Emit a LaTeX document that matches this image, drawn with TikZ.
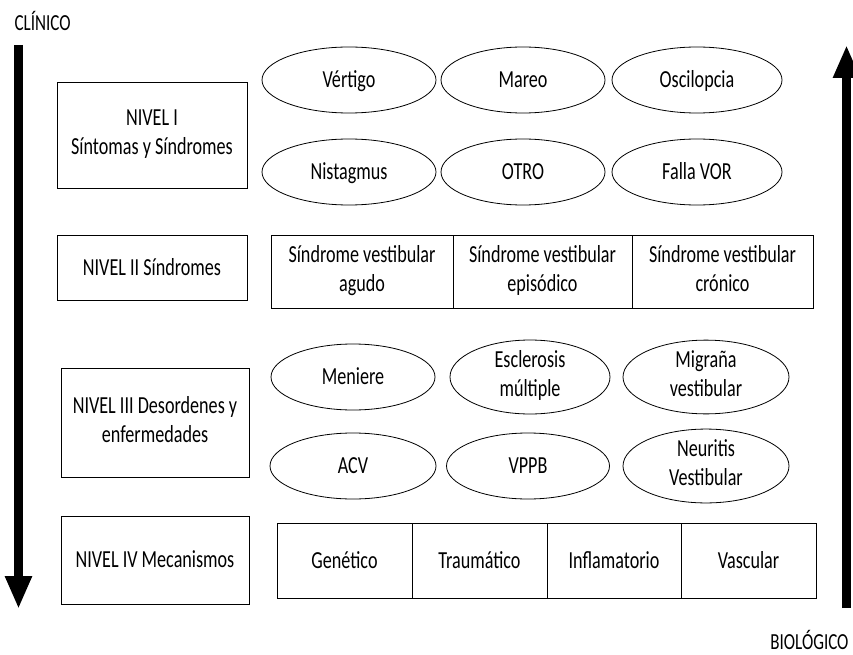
\documentclass[tikz,border=0pt]{standalone}
\usepackage{fontspec}
\setmainfont{Carlito}[FakeStretch=0.74]
\usetikzlibrary{shapes.geometric,arrows.meta,positioning}
\newcommand{\puntal}{\rule[-6.3pt]{0pt}{27.8pt}}

\begin{document}
\begin{tikzpicture}[x=1pt, y=-1pt,
    caja/.style={draw, line width=0.8pt, inner sep=0pt, outer sep=0pt, align=center, font=\fontsize{24.5}{29}\selectfont,
        execute at begin node=\puntal, execute at end node=\puntal},
    elipse/.style={draw, ellipse, line width=0.8pt, inner sep=0pt, minimum height=66pt, align=center, font=\fontsize{24.5}{29}\selectfont,
        execute at begin node=\puntal, execute at end node=\puntal},
    flecha/.style={line width=8.5pt, -{Triangle[length=33pt, width=25pt]}}]
    \useasboundingbox (0,0) rectangle (853,655);

    % Extremos: clínico y biológico
    \node[anchor=west, font=\fontsize{23}{27}\selectfont] (clinico) at (11,21) {CLÍNICO};
    \node[anchor=east, font=\fontsize{23}{27}\selectfont] (biologico) at (852,640) {BIOLÓGICO};
    \coordinate (izqarriba) at (18.5,45);
    \coordinate (izqabajo) at (18.5,609);
    \coordinate (derabajo) at (846.5,608);
    \coordinate (derarriba) at (846.5,45);
    \draw[flecha] (izqarriba) -- (izqabajo);
    \draw[flecha] (derabajo) -- (derarriba);

    % Niveles
    \node[caja, minimum width=190pt, minimum height=106pt] (nivel1) at (152,135) {NIVEL I\\Síntomas y Síndromes};
    \node[caja, minimum width=190pt, minimum height=65pt] (nivel2) at (152,267.5) {NIVEL II Síndromes};
    \node[caja, minimum width=188pt, minimum height=109pt] (nivel3) at (155,422.5) {NIVEL III Desordenes y\\enfermedades};
    \node[caja, minimum width=188pt, minimum height=88pt] (nivel4) at (155,560) {NIVEL IV Mecanismos};

    % Nivel I: síntomas
    \node[elipse, minimum width=174pt] (vertigo) at (349,80) {Vértigo};
    \node[elipse, minimum width=164pt] (mareo) at (523,80) {Mareo};
    \node[elipse, minimum width=170pt] (oscilopcia) at (697,80) {Oscilopcia};
    \node[elipse, minimum width=174pt] (nistagmus) at (349,172) {Nistagmus};
    \node[elipse, minimum width=164pt] (otro) at (523,172) {OTRO};
    \node[elipse, minimum width=170pt] (fallavor) at (697,172) {Falla VOR};

    % Nivel II: síndromes
    \node[caja, minimum width=182pt, minimum height=73pt] (agudo) at (362,271.5) {Síndrome vestibular\\agudo};
    \node[caja, minimum width=179pt, minimum height=73pt, right=0pt of agudo] (episodico) {Síndrome vestibular\\episódico};
    \node[caja, minimum width=181pt, minimum height=73pt, right=0pt of episodico] (cronico) {Síndrome vestibular\\crónico};

    % Nivel III: desórdenes
    \node[elipse, minimum width=164pt] (meniere) at (353,377) {Meniere};
    \node[elipse, minimum width=160pt] (esclerosis) at (530,377) {Esclerosis\\múltiple};
    \node[elipse, minimum width=166pt] (migrana) at (706,377) {Migraña\\vestibular};
    \node[elipse, minimum width=166pt] (acv) at (353,466) {ACV};
    \node[elipse, minimum width=163pt] (vppb) at (528,466) {VPPB};
    \node[elipse, minimum width=166pt] (neuritis) at (706,466) {Neuritis\\Vestibular};

    % Nivel IV: mecanismos
    \node[caja, minimum width=135pt, minimum height=75pt] (genetico) at (344.5,560.5) {Genético};
    \node[caja, minimum width=135pt, minimum height=75pt, right=0pt of genetico] (traumatico) {Traumático};
    \node[caja, minimum width=134pt, minimum height=75pt, right=0pt of traumatico] (inflamatorio) {Inflamatorio};
    \node[caja, minimum width=135pt, minimum height=75pt, right=0pt of inflamatorio] (vascular) {Vascular};
\end{tikzpicture}
\end{document}
